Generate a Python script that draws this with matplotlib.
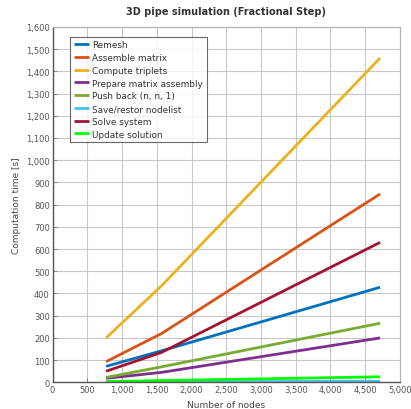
import matplotlib
matplotlib.use("Agg")
import matplotlib.pyplot as plt
from matplotlib.ticker import FuncFormatter, MultipleLocator

# Mesh sizes (number of nodes) for the three runs
nodes = [770, 1570, 4715]

# Computation time per stage [s]
remesh = [72, 142, 428]
assemble_matrix = [93, 220, 848]
compute_triplets = [200, 435, 1460]
prepare_assembly = [18, 45, 200]
push_back = [22, 70, 266]
save_restore = [1, 2, 5]
solve_system = [50, 135, 630]
update_solution = [3, 8, 25]

series = [
    ("Remesh", remesh, "#0072BD"),
    ("Assemble matrix", assemble_matrix, "#D95319"),
    ("Compute triplets", compute_triplets, "#EDB120"),
    ("Prepare matrix assembly", prepare_assembly, "#7E2F8E"),
    ("Push back (n, n, 1)", push_back, "#77AC30"),
    ("Save/restor nodelist", save_restore, "#4DBEEE"),
    ("Solve system", solve_system, "#A2142F"),
    ("Update solution", update_solution, "#00FF00"),
]

fig = plt.figure(figsize=(4.11, 4.10), dpi=100)
ax = fig.add_axes([0.128, 0.065, 0.845, 0.867])

for label, vals, color in series:
    ax.plot(nodes, vals, color=color, lw=2.0, label=label, solid_capstyle="butt")

ax.set_xlim(0, 5000)
ax.set_ylim(0, 1600)
ax.xaxis.set_major_locator(MultipleLocator(500))
ax.yaxis.set_major_locator(MultipleLocator(100))
fmt = FuncFormatter(lambda v, p: f"{int(v):,}")
ax.xaxis.set_major_formatter(fmt)
ax.yaxis.set_major_formatter(fmt)

ax.grid(True, color="#c8c8c8", lw=0.8)
ax.set_axisbelow(True)
for side in ["top", "right"]:
    ax.spines[side].set_color("#b0b0b0")
    ax.spines[side].set_linewidth(0.8)
for side in ["left", "bottom"]:
    ax.spines[side].set_color("#555555")
    ax.spines[side].set_linewidth(1.0)
ax.tick_params(axis="both", direction="in", length=3, width=0.6,
               color="#777777", labelsize=6, labelcolor="#555555", pad=2)

ax.set_xlabel("Number of nodes", fontsize=6.5, color="#444444", labelpad=4)
ax.set_ylabel("Computation time [s]", fontsize=6.5, color="#444444", labelpad=4)
ax.set_title("3D pipe simulation (Fractional Step)", fontsize=7,
             fontweight="bold", color="#333333", pad=9)

leg = ax.legend(loc="upper left", bbox_to_anchor=(0.05, 0.972), borderaxespad=0,
                fontsize=6.4, frameon=True, fancybox=False, edgecolor="#444444",
                handlelength=1.7, handletextpad=0.4, labelspacing=0.42,
                borderpad=0.4)
leg.get_frame().set_linewidth(0.8)
for t in leg.get_texts():
    t.set_color("#333333")

fig.savefig("out.png", dpi=100)
